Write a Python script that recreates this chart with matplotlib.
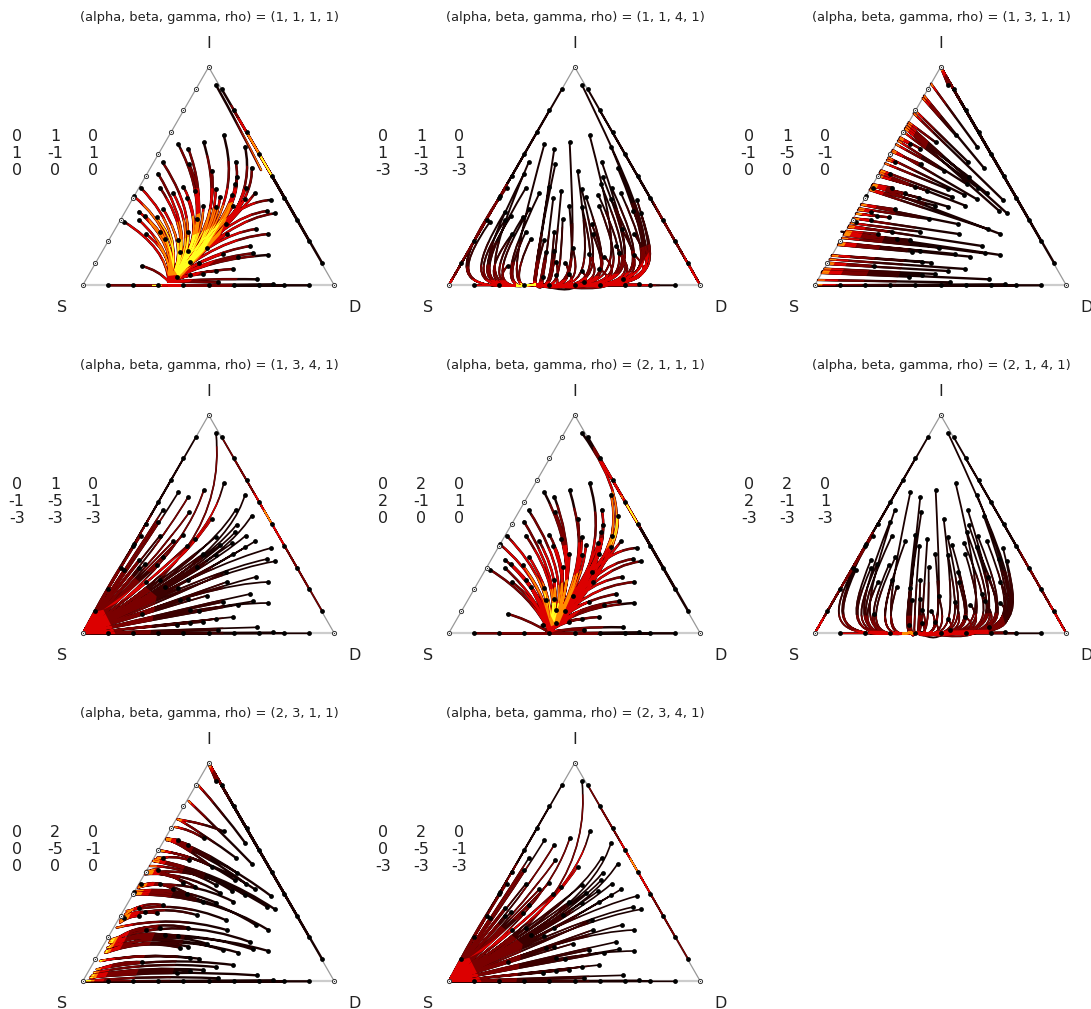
import matplotlib
matplotlib.use('Agg')
import matplotlib.pyplot as plt
from matplotlib.path import Path
from matplotlib.patches import PathPatch, Polygon

S = (38, 691)
D = (793, 691)
I = (416, 36)

TITLES = ['(1, 1, 1, 1)', '(1, 1, 4, 1)', '(1, 3, 1, 1)', '(1, 3, 4, 1)',
          '(2, 1, 1, 1)', '(2, 1, 4, 1)', '(2, 3, 1, 1)', '(2, 3, 4, 1)']

MATRICES = [
    [[0, 1, 0], [1, -1, 1], [0, 0, 0]],
    [[0, 1, 0], [1, -1, 1], [-3, -3, -3]],
    [[0, 1, 0], [-1, -5, -1], [0, 0, 0]],
    [[0, 1, 0], [-1, -5, -1], [-3, -3, -3]],
    [[0, 2, 0], [2, -1, 1], [0, 0, 0]],
    [[0, 2, 0], [2, -1, 1], [-3, -3, -3]],
    [[0, 2, 0], [0, -5, -1], [0, 0, 0]],
    [[0, 2, 0], [0, -5, -1], [-3, -3, -3]],
]

# edge start points
LEFT_PTS = [(76, 625), (113, 559), (152, 495), (189, 428), (227, 362), (265, 298), (303, 232), (340, 166), (378, 102)]
RIGHT_PTS = [(455, 102), (491, 166), (530, 232), (567, 298), (606, 363), (643, 428), (681, 494), (718, 559), (757, 625)]
BASE_PTS = [(113, 691), (189, 691), (265, 691), (340, 691), (416, 691), (491, 691), (567, 691), (608, 688), (643, 691), (718, 691)]

# interior start points, the same in every panel
START_PTS = [
    (438, 90), (461, 241), (401, 262), (325, 268), (355, 281), (525, 275), (278, 322), (497, 320), (358, 328), (545, 338),
    (264, 356), (425, 347), (500, 365), (495, 388), (270, 398), (340, 395), (527, 398), (212, 398), (555, 415), (376, 407),
    (310, 415), (437, 402), (352, 428), (450, 426), (487, 420), (603, 435), (525, 433), (400, 452), (490, 452), (438, 455),
    (280, 463), (592, 468), (615, 475), (207, 470), (225, 483), (260, 487), (380, 492), (207, 495), (162, 500), (467, 507),
    (557, 522), (228, 537), (270, 530), (470, 537), (595, 537), (284, 552), (355, 530), (325, 555), (410, 578), (540, 573),
    (330, 590), (355, 587), (458, 597), (505, 605), (548, 595), (595, 600), (215, 633), (388, 623), (360, 620), (490, 642),
    (437, 648), (400, 657), (320, 665), (360, 660), (560, 673), (445, 682), (192, 424),
]

# bend points per start point
P1_VIA = [
    (505, 210), (530, 470), (480, 520), (450, 510), (440, 510), (570, 480), (420, 540), (530, 480), (440, 520), (555, 470),
    (390, 560), (450, 510), (510, 490), (490, 500), (380, 560), (420, 540), (490, 520), (350, 540), (480, 510), (420, 560),
    (390, 560), (440, 540), (410, 570), (440, 550), (450, 530), (470, 440), (450, 520), (400, 570), (430, 550), (420, 560),
    (360, 590), (470, 480), (480, 490), (320, 570), (330, 580), (340, 590), (380, 590), (310, 590), (290, 580), (400, 590),
    (430, 540), (310, 600), (330, 610), (390, 590), (440, 550), (320, 620), (360, 610), (335, 620), (360, 620), (410, 595),
    (330, 640), (345, 630), (380, 620), (390, 625), (410, 610), (420, 610), (265, 645), (345, 645), (335, 640), (380, 648),
    (365, 652), (350, 660), (308, 670), (330, 668), (420, 670), (370, 680), (330, 540),
]
P1_END = [(296, 680)] * len(START_PTS)
P1_END[0] = (573, 345)

P5_VIA = list(P1_VIA)
P5_VIA[0] = (590, 300)
P5_END = [(340, 688)] * len(START_PTS)
P5_END[0] = (520, 435)

# panels 2 and 6: x where each path turns into the bottom edge
P2_TURN_X = [
    710, 566, 419, 220, 298, 680, 140, 610, 290, 670,
    115, 465, 610, 600, 120, 293, 640, 40, 660, 353,
    198, 496, 324, 528, 590, 670, 635, 416, 565, 483,
    170, 670, 672, 100, 120, 161, 373, 110, 60, 525,
    630, 146, 212, 518, 665, 236, 344, 296, 428, 595,
    315, 351, 493, 550, 600, 650, 187, 405, 370, 534,
    463, 416, 320, 370, 500, 400, 45,
]
P6_TURN_X = [
    700, 556, 419, 245, 315, 670, 170, 600, 310, 655,
    150, 460, 600, 590, 155, 310, 625, 60, 645, 360,
    225, 490, 335, 515, 580, 655, 620, 416, 550, 475,
    195, 655, 655, 135, 150, 190, 380, 140, 95, 515,
    615, 175, 235, 505, 650, 255, 350, 310, 430, 585,
    325, 355, 485, 540, 590, 640, 210, 405, 375, 525,
    460, 416, 330, 375, 500, 400, 80,
]

# straight paths of panel 3
P3_END = [
    (416, 36), (362, 129), (320, 202), (292, 251), (294, 247), (387, 86), (255, 315), (340, 167), (269, 290), (366, 122),
    (235, 349), (282, 268), (309, 221), (288, 257), (213, 388), (227, 363), (304, 230), (207, 399), (313, 214), (228, 361),
    (210, 393), (249, 325), (209, 394), (237, 346), (259, 308), (335, 175), (272, 285), (204, 403), (233, 353), (212, 389),
    (178, 448), (310, 220), (317, 207), (168, 465), (162, 476), (162, 476), (171, 460), (154, 490), (150, 498), (177, 449),
    (203, 405), (132, 528), (138, 517), (154, 490), (211, 391), (127, 537), (146, 504), (128, 535), (120, 549), (141, 512),
    (108, 570), (111, 565), (112, 563), (110, 566), (125, 540), (118, 530), (77, 623), (89, 602), (90, 601), (83, 613),
    (75, 627), (67, 641), (59, 654), (63, 648), (60, 650), (48, 675), (192, 424),
]

# panels 4 and 8 run into the S corner
P4_VIA = [
    (475, 460), (415, 450), (335, 470), (215, 445), (255, 450), (470, 470), (185, 470), (410, 470), (250, 480), (450, 490),
    (170, 490), (330, 500), (400, 490), (380, 510), (165, 530), (215, 530), (410, 500), (120, 545), (420, 500), (240, 540),
    (190, 540), (300, 520), (210, 560), (320, 530), (350, 520), (430, 480), (370, 530), (240, 570), (340, 550), (280, 570),
    (155, 570), (430, 500), (450, 500), (120, 580), (130, 590), (150, 590), (220, 590), (120, 595), (100, 595), (290, 590),
    (370, 570), (130, 615), (150, 610), (290, 600), (430, 540), (160, 620), (200, 610), (180, 625), (230, 630), (300, 625),
    (180, 640), (190, 640), (250, 640), (280, 645), (300, 635), (420, 600), (125, 660), (210, 655), (200, 655), (270, 665),
    (240, 670), (220, 672), (180, 678), (200, 675), (300, 680), (240, 686), (105, 560),
]

P7_VIA = [
    (430, 70), (395, 215), (360, 235), (310, 262), (320, 265), (455, 180), (270, 318), (410, 255), (310, 310), (450, 240),
    (252, 352), (350, 290), (400, 295), (380, 310), (240, 392), (280, 355), (420, 315), (210, 400), (420, 325), (300, 365),
    (260, 385), (340, 345), (280, 385), (340, 360), (370, 345), (450, 320), (390, 345), (300, 405), (360, 385), (320, 405),
    (220, 450), (430, 365), (450, 365), (190, 470), (190, 478), (205, 475), (270, 460), (178, 495), (155, 502), (320, 445),
    (400, 420), (170, 530), (190, 520), (310, 490), (420, 430), (200, 535), (235, 505), (225, 535), (260, 530), (330, 495),
    (220, 565), (235, 560), (280, 540), (300, 545), (330, 525), (350, 530), (150, 630), (230, 605), (220, 605), (280, 615),
    (250, 630), (230, 645), (190, 655), (210, 650), (300, 655), (240, 672), (192, 425),
]
P7_END = [
    (416, 40), (322, 205), (315, 228), (295, 265), (290, 268), (385, 103), (262, 320), (325, 205), (258, 325), (356, 150),
    (240, 360), (290, 262), (295, 262), (270, 300), (210, 405), (228, 360), (290, 265), (207, 405), (272, 298), (225, 365),
    (205, 410), (240, 345), (205, 410), (225, 370), (250, 330), (290, 265), (228, 365), (195, 430), (210, 405), (200, 420),
    (165, 490), (250, 330), (255, 325), (168, 490), (160, 500), (155, 510), (160, 500), (150, 515), (150, 510), (170, 480),
    (200, 425), (125, 585), (125, 575), (140, 530), (195, 430), (120, 585), (125, 570), (118, 590), (105, 605), (125, 565),
    (110, 605), (110, 600), (112, 590), (108, 600), (120, 570), (118, 575), (85, 655), (90, 630), (90, 630), (80, 655),
    (72, 665), (68, 672), (65, 680), (65, 675), (60, 680), (50, 690), (190, 428),
]

# colour zones: colour and the region where the paths take it, painted in order
DARK = '#1a0000'
MID = '#3c0000'
MAROON = '#7a0000'
RED = '#dc0000'
ORANGE = '#ff8c00'
YELLOW = '#ffff20'
HEAT_LW = {MID: 0.85, MAROON: 0.8, RED: 0.7, ORANGE: 0.5, YELLOW: 0.35}

P1_HEAT = [
    (MAROON, [(150, 440), (330, 280), (560, 340), (620, 520), (480, 700), (120, 700)]),
    (MAROON, [(480, 150), (530, 150), (620, 370), (560, 370)]),
    (RED, [(195, 400), (290, 430), (370, 400), (520, 400), (560, 450), (500, 560), (360, 680), (300, 691), (170, 540)]),
    (RED, [(500, 190), (540, 190), (612, 370), (570, 345)]),
    (ORANGE, [(205, 410), (300, 510), (400, 470), (490, 440), (450, 540), (330, 670), (300, 680), (270, 590)]),
    (ORANGE, [(515, 230), (545, 230), (610, 365), (575, 350)]),
    (YELLOW, [(230, 440), (320, 560), (420, 520), (460, 490), (400, 590), (325, 665), (310, 640), (285, 530)]),
    (YELLOW, [(550, 295), (575, 290), (610, 365), (575, 350)]),
    (YELLOW, [(245, 685), (275, 685), (275, 697), (245, 697)]),
    (RED, [(275, 697), (275, 665), (320, 660), (340, 697)]),
]
P5_HEAT = [
    (MAROON, [(150, 440), (330, 300), (560, 340), (620, 520), (480, 700), (120, 700)]),
    (MAROON, [(470, 130), (530, 150), (620, 370), (510, 440)]),
    (RED, [(190, 400), (290, 440), (370, 430), (520, 400), (560, 440), (500, 560), (370, 680), (340, 691), (260, 560)]),
    (RED, [(480, 170), (540, 190), (612, 370), (510, 440)]),
    (ORANGE, [(235, 440), (310, 530), (345, 560), (440, 500), (370, 660), (345, 670), (320, 590)]),
    (ORANGE, [(520, 260), (560, 280), (560, 380), (510, 440)]),
    (YELLOW, [(320, 560), (345, 600), (370, 600), (355, 660), (345, 640)]),
    (YELLOW, [(545, 320), (575, 300), (610, 365), (520, 440)]),
]
P2_HEAT = [
    (MID, [(30, 700), (30, 560), (250, 560), (600, 440), (700, 500), (670, 700)]),
    (MAROON, [(30, 700), (30, 640), (250, 620), (560, 600), (660, 560), (660, 700)]),
    (MAROON, [(650, 440), (700, 440), (800, 700), (760, 700)]),
    (MAROON, [(30, 700), (130, 540), (220, 390), (200, 380), (30, 680)]),
    (RED, [(30, 700), (30, 670), (330, 680), (600, 650), (640, 590), (650, 700)]),
    (RED, [(740, 590), (800, 700), (770, 700)]),
    (ORANGE, [(70, 697), (70, 685), (120, 685), (120, 697)]),
    (YELLOW, [(240, 697), (240, 685), (300, 685), (300, 697)]),
]
P6_HEAT = [
    (MID, [(30, 700), (30, 560), (250, 560), (600, 500), (650, 520), (650, 700)]),
    (MAROON, [(30, 700), (30, 630), (250, 640), (600, 630), (620, 700)]),
    (MAROON, [(650, 440), (700, 440), (800, 700), (760, 700)]),
    (MAROON, [(30, 700), (130, 540), (220, 390), (200, 380), (30, 680)]),
    (RED, [(30, 700), (30, 650), (90, 640), (130, 682), (340, 685), (560, 680), (560, 700)]),
    (RED, [(740, 590), (800, 700), (770, 700)]),
    (ORANGE, [(300, 697), (300, 685), (345, 685), (345, 697)]),
]
P3_HEAT = [
    (MID, [(38, 691), (416, 36), (500, 80), (280, 691)]),
    (MAROON, [(38, 691), (416, 36), (470, 65), (180, 691)]),
    (RED, [(38, 691), (416, 36), (435, 50), (100, 691)]),
    (ORANGE, [(38, 691), (416, 36), (422, 46), (60, 691)]),
]
P7_HEAT = [
    (MID, [(38, 691), (416, 36), (500, 80), (300, 691)]),
    (MAROON, [(38, 691), (416, 36), (470, 65), (190, 691)]),
    (RED, [(38, 691), (416, 36), (435, 50), (100, 691)]),
    (ORANGE, [(38, 691), (416, 36), (424, 46), (72, 691)]),
    (YELLOW, [(40, 691), (130, 535), (150, 535), (62, 691)]),
]
P4_HEAT = [
    (MID, [(20, 700), (20, 400), (200, 300), (460, 520), (460, 700)]),
    (MAROON, [(20, 700), (20, 520), (130, 470), (260, 580), (240, 700)]),
    (MAROON, [(400, 130), (470, 130), (440, 360), (280, 520), (220, 500)]),
    (MAROON, [(440, 100), (480, 100), (800, 660), (740, 660)]),
    (MAROON, [(30, 700), (240, 340), (300, 340), (60, 700)]),
    (RED, [(25, 700), (25, 640), (100, 620), (140, 700)]),
    (RED, [(360, 430), (430, 300), (450, 300), (390, 430), (180, 580), (100, 620)]),
    (RED, [(550, 270), (590, 270), (650, 440), (610, 440)]),
    (ORANGE, [(580, 320), (610, 330), (606, 366), (590, 360)]),
]

PANELS = [
    {'via': P1_VIA, 'end': P1_END, 'heat': P1_HEAT, 'left': None, 'right': (606, 363), 'base': (296, 691), 'lw': 1.8},
    {'turn': P2_TURN_X, 'end': [(296, 688)] * len(START_PTS), 'heat': P2_HEAT, 'left': S, 'right': D, 'base': (296, 691), 'lw': 1.4},
    {'end': P3_END, 'heat': P3_HEAT, 'left': None, 'right': I, 'base': S, 'lw': 1.7},
    {'via': P4_VIA, 'end': [S] * len(START_PTS), 'heat': P4_HEAT, 'left': S, 'right': (606, 363), 'base': S, 'lw': 1.25},
    {'via': P5_VIA, 'end': P5_END, 'heat': P5_HEAT, 'left': None, 'right': (606, 363), 'base': (340, 691), 'lw': 1.8},
    {'turn': P6_TURN_X, 'end': [(340, 688)] * len(START_PTS), 'heat': P6_HEAT, 'left': S, 'right': D, 'base': (340, 691), 'lw': 1.3},
    {'via': P7_VIA, 'end': P7_END, 'heat': P7_HEAT, 'left': None, 'right': I, 'base': S, 'lw': 1.7},
    {'via': P4_VIA, 'end': [S] * len(START_PTS), 'heat': P4_HEAT, 'left': S, 'right': (606, 363), 'base': S, 'lw': 1.2},
]


def build_paths(panel):
    """One compound path holding every trajectory of a panel"""
    verts, codes = [], []
    for i, start in enumerate(START_PTS):
        end = panel['end'][i]
        if 'via' in panel:
            verts += [start, panel['via'][i], end]
            codes += [Path.MOVETO, Path.CURVE3, Path.CURVE3]
        elif 'turn' in panel:
            x = panel['turn'][i]
            verts += [start, (x, max(650, start[1] + 25)), (x, 712), end]
            codes += [Path.MOVETO, Path.CURVE4, Path.CURVE4, Path.CURVE4]
        else:
            verts += [start, end]
            codes += [Path.MOVETO, Path.LINETO]
    for name, pts in (('left', LEFT_PTS), ('right', RIGHT_PTS), ('base', BASE_PTS)):
        if panel[name] is None:
            continue
        for p in pts:
            verts += [p, panel[name]]
            codes += [Path.MOVETO, Path.LINETO]
    return Path(verts, codes)


def draw_panel(row, col, n):
    panel = PANELS[n]
    left = 70 + 366 * col
    top = 55 + 348 * row
    ax = fig.add_axes([left / 1091, 1 - (top + 240) / 1009, 280 / 1091, 240 / 1009])
    ax.set_xlim(0, 840)
    ax.set_ylim(720, 0)
    ax.axis('off')

    ax.plot([S[0], I[0], D[0]], [S[1], I[1], D[1]], color='#999999', lw=0.9, zorder=1)
    ax.plot([S[0], D[0]], [S[1], D[1]], color='#cccccc', lw=1.6, zorder=1)

    paths = build_paths(panel)
    ax.add_patch(PathPatch(paths, fc='none', ec=DARK, lw=panel['lw'], zorder=2, capstyle='round'))
    for colour, region in panel['heat']:
        clip = Polygon(region, closed=True, transform=ax.transData)
        patch = PathPatch(paths, fc='none', ec=colour, lw=panel['lw'] * HEAT_LW[colour], zorder=3, capstyle='round')
        ax.add_patch(patch)
        patch.set_clip_path(clip)

    # start dots
    moved = list(START_PTS) + list(BASE_PTS) + list(RIGHT_PTS)
    if panel['left'] is not None:
        moved += LEFT_PTS
    ax.scatter([p[0] for p in moved], [p[1] for p in moved], s=12, c='black', lw=0, zorder=5, clip_on=False)
    still = [S, D, I]
    if panel['left'] is None:
        still += LEFT_PTS
    ax.scatter([p[0] for p in still], [p[1] for p in still], s=9, facecolors='white',
               edgecolors='#333333', linewidths=0.7, zorder=5, clip_on=False)
    ax.scatter([p[0] for p in still], [p[1] for p in still], s=0.8, c='#333333', lw=0, zorder=6, clip_on=False)

    # labels
    ax.text(417, -114, f'(alpha, beta, gamma, rho) = {TITLES[n]}', fontsize=9.4, color='#222222',
            ha='center', va='center', clip_on=False)
    ax.text(417, -36, 'I', fontsize=11.5, color='#222222', ha='center', va='center', clip_on=False)
    ax.text(-24, 756, 'S', fontsize=11.5, color='#222222', ha='center', va='center', clip_on=False)
    ax.text(855, 756, 'D', fontsize=11.5, color='#222222', ha='center', va='center', clip_on=False)
    for r, vals in enumerate(MATRICES[n]):
        for c, v in enumerate(vals):
            ax.text(-160 + 115 * c, 245 + 51 * r, str(v), fontsize=11.5, color='#222222',
                    ha='center', va='center', clip_on=False)


fig = plt.figure(figsize=(10.91, 10.09), dpi=100)
for n in range(8):
    draw_panel(n // 3, n % 3, n)

fig.savefig('out.png', dpi=100)
